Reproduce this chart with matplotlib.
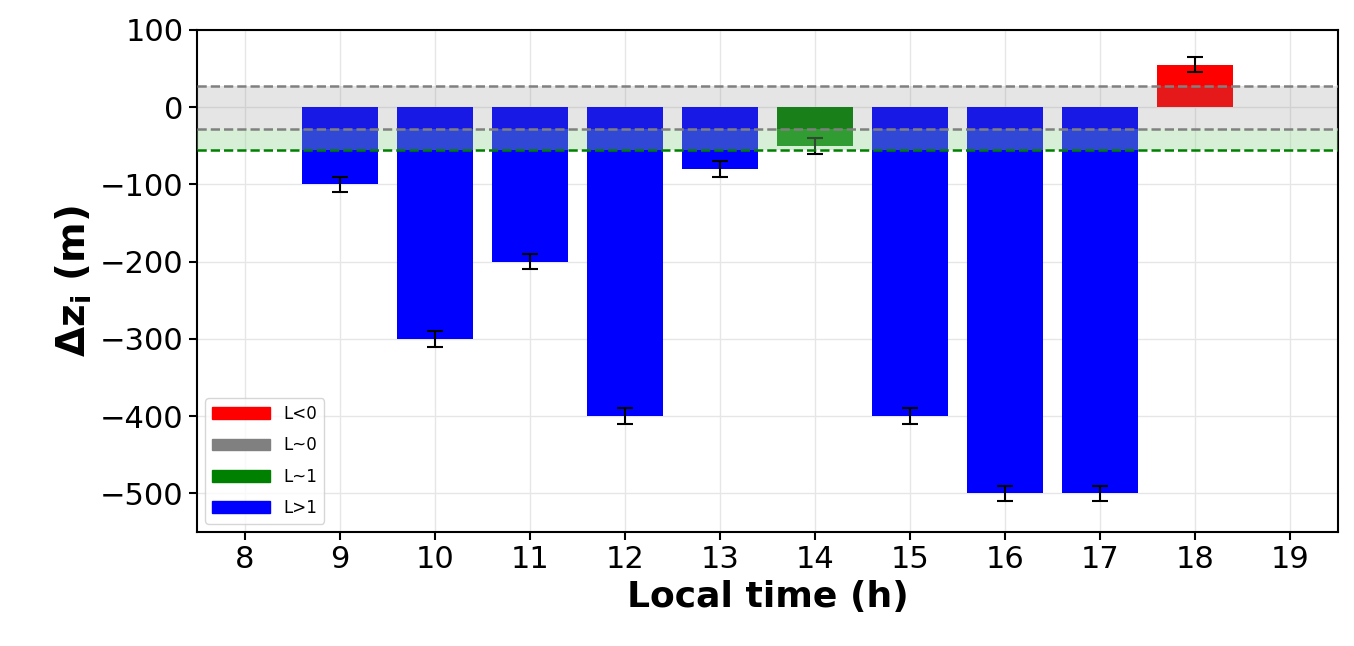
import matplotlib.pyplot as plt
from matplotlib.patches import Patch

hours = [9, 10, 11, 12, 13, 14, 15, 16, 17, 18]
dz = [-100, -300, -200, -400, -80, -50, -400, -500, -500, 55]
err = [10, 10, 10, 10, 10, 10, 10, 10, 10, 10]
colors = ['blue', 'blue', 'blue', 'blue', 'blue', 'green', 'blue', 'blue', 'blue', 'red']

gray_band = (-28, 28)
green_band = (-56, -28)

fig = plt.figure(figsize=(13.54, 6.46), dpi=100)
ax = fig.add_axes([197 / 1354, 1 - 532 / 646, (1338 - 197) / 1354, (532 - 30) / 646])

ax.bar(hours, dz, width=0.8, color=colors, yerr=err, capsize=6,
       error_kw=dict(ecolor='black', elinewidth=1.5, capthick=1.5), zorder=2)

ax.axhspan(gray_band[0], gray_band[1], color='gray', alpha=0.2, lw=0, zorder=3)
ax.axhspan(green_band[0], green_band[1], color='#8fd18f', alpha=0.35, lw=0, zorder=3)
ax.axhline(gray_band[1], color='gray', ls='--', lw=1.8, zorder=4)
ax.axhline(gray_band[0], color='gray', ls='--', lw=1.8, zorder=4)
ax.axhline(green_band[0], color='green', ls='--', lw=1.8, zorder=4)

ax.set_xlim(7.5, 19.5)
ax.set_ylim(-550, 100)
ax.set_xticks(range(8, 20))
ax.set_yticks(range(-500, 101, 100))
ax.tick_params(labelsize=22, width=1.5, length=6)
ax.grid(True, color='#e6e6e6', lw=1, zorder=0)
ax.set_axisbelow(True)
for s in ax.spines.values():
    s.set_linewidth(1.5)

ax.set_xlabel('Local time (h)', fontsize=26, fontweight='bold')
ax.set_ylabel(r'$\mathbf{\Delta z_i}$ (m)', fontsize=28, fontweight='bold')

handles = [Patch(color='red', label='L<0'), Patch(color='gray', label='L~0'),
           Patch(color='green', label='L~1'), Patch(color='blue', label='L>1')]
ax.legend(handles=handles, loc='lower left', fontsize=12, handlelength=3.5, labelspacing=0.8)

fig.savefig('out.png')
